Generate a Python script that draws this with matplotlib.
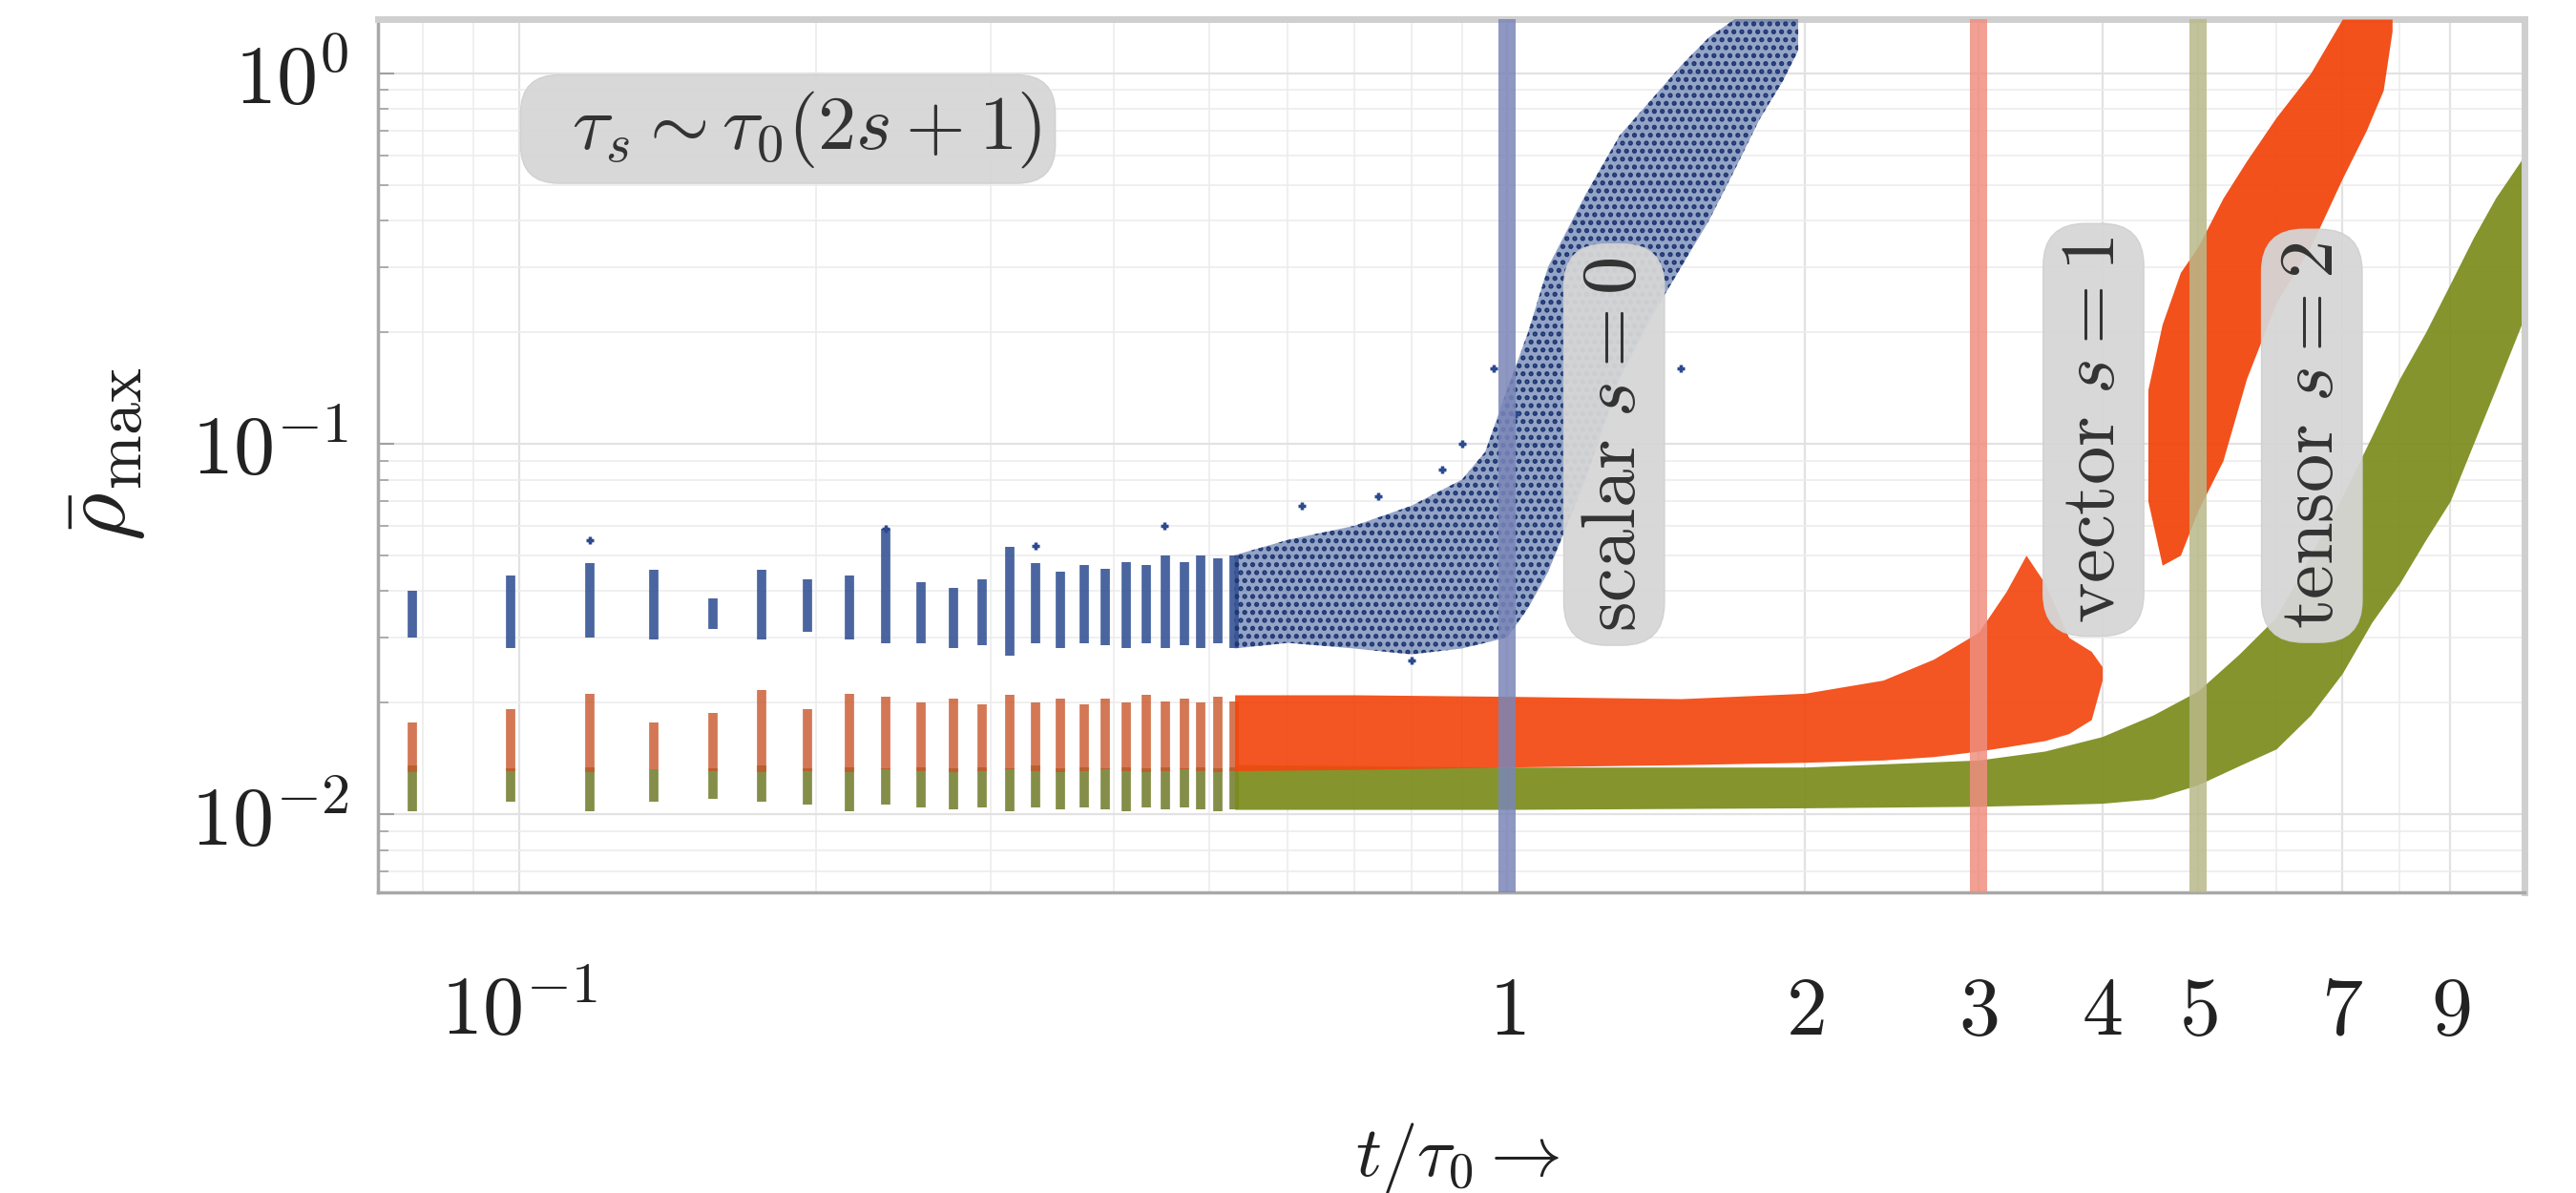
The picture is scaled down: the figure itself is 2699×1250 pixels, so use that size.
import matplotlib
matplotlib.use('Agg')
import matplotlib.pyplot as plt
from matplotlib.ticker import FixedLocator, FixedFormatter, LogLocator, NullFormatter

plt.rcParams['mathtext.fontset'] = 'cm'
plt.rcParams['font.family'] = ['DejaVu Serif']
plt.rcParams['hatch.linewidth'] = 2.5

# ---------------- data ----------------
# early, well separated sampling times (vertical streaks of points)
streak_t = [0.078, 0.098, 0.118, 0.137, 0.157, 0.176, 0.196, 0.216, 0.235, 0.255,
            0.275, 0.294, 0.314, 0.333, 0.353, 0.373, 0.392, 0.412, 0.431, 0.451,
            0.471, 0.490, 0.510, 0.529]
scalar_streak_lo = [0.030, 0.028, 0.030, 0.0296, 0.0317, 0.0296, 0.031, 0.0296, 0.029, 0.029,
                    0.028, 0.0285, 0.0268, 0.029, 0.028, 0.029, 0.0285, 0.028, 0.029, 0.028,
                    0.0285, 0.028, 0.029, 0.028]
scalar_streak_hi = [0.040, 0.044, 0.0476, 0.0456, 0.0382, 0.0456, 0.0431, 0.044, 0.059, 0.0424,
                    0.0407, 0.0431, 0.0526, 0.0476, 0.045, 0.047, 0.046, 0.048, 0.047, 0.050,
                    0.048, 0.050, 0.049, 0.050]
vector_streak_lo = [0.0130, 0.0131, 0.0130, 0.0132, 0.0131, 0.0130, 0.0131, 0.0130, 0.0132, 0.0131,
                    0.0130, 0.0131, 0.0132, 0.0131, 0.0130, 0.0131, 0.0132, 0.0131, 0.0130, 0.0131,
                    0.0132, 0.0131, 0.0130, 0.0131]
vector_streak_hi = [0.0177, 0.0192, 0.0211, 0.0177, 0.0188, 0.0216, 0.0192, 0.0211, 0.0207, 0.0200,
                    0.0205, 0.0198, 0.0210, 0.0200, 0.0205, 0.0198, 0.0205, 0.0200, 0.0210, 0.0202,
                    0.0205, 0.0200, 0.0208, 0.0202]
tensor_streak_lo = [0.0102, 0.0108, 0.0102, 0.0108, 0.0110, 0.0108, 0.0106, 0.0102, 0.0106, 0.0104,
                    0.0103, 0.0104, 0.0102, 0.0104, 0.0103, 0.0104, 0.0103, 0.0102, 0.0104, 0.0103,
                    0.0104, 0.0103, 0.0102, 0.0103]
tensor_streak_hi = [0.0135, 0.0133, 0.0134, 0.0132, 0.0133, 0.0135, 0.0133, 0.0134, 0.0133, 0.0134,
                    0.0133, 0.0134, 0.0133, 0.0135, 0.0133, 0.0134, 0.0133, 0.0134, 0.0133, 0.0134,
                    0.0133, 0.0134, 0.0133, 0.0134]

# later times: the clouds merge into bands (lower / upper envelope)
scalar_band_t = [0.53, 0.60, 0.70, 0.80, 0.90, 0.95, 1.00, 1.05, 1.10, 1.20, 1.30,
                 1.40, 1.50, 1.60, 1.70, 1.80, 1.90, 1.97]
scalar_band_lo = [0.028, 0.029, 0.028, 0.027, 0.028, 0.029, 0.030, 0.036, 0.045, 0.080, 0.15,
                  0.22, 0.30, 0.40, 0.55, 0.75, 0.95, 1.15]
scalar_band_hi = [0.050, 0.055, 0.060, 0.068, 0.080, 0.095, 0.140, 0.200, 0.300, 0.470, 0.68,
                  0.85, 1.05, 1.25, 1.40, 1.40, 1.40, 1.40]

vector_band_t = [0.53, 0.70, 1.00, 1.50, 2.00, 2.40, 2.70, 3.00, 3.20, 3.35, 3.50, 3.70, 3.90, 4.00]
vector_band_lo = [0.0131, 0.0132, 0.0134, 0.0136, 0.0138, 0.0140, 0.0143, 0.0148, 0.0152, 0.0155,
                  0.0158, 0.0165, 0.0180, 0.0230]
vector_band_hi = [0.0210, 0.0210, 0.0208, 0.0205, 0.0212, 0.0230, 0.0262, 0.0310, 0.0400, 0.0500,
                  0.0420, 0.0300, 0.0275, 0.0250]
vector_rise_t = [4.45, 4.60, 4.80, 5.00, 5.30, 5.60, 6.00, 6.50, 7.00, 7.40, 7.70, 7.86]
vector_rise_lo = [0.070, 0.047, 0.050, 0.066, 0.090, 0.150, 0.240, 0.340, 0.520, 0.700, 0.900, 1.30]
vector_rise_hi = [0.140, 0.210, 0.290, 0.340, 0.460, 0.580, 0.760, 1.000, 1.400, 1.400, 1.400, 1.40]

tensor_band_t = [0.53, 1.0, 2.0, 3.0, 3.5, 4.0, 4.5, 5.0, 5.5, 6.0, 6.5, 7.0, 7.5, 8.0,
                 8.5, 9.0, 9.5, 10.0, 10.7]
tensor_band_lo = [0.0103, 0.0103, 0.0104, 0.0105, 0.0106, 0.0107, 0.0110, 0.0120, 0.0135, 0.0150,
                  0.0185, 0.0240, 0.0330, 0.0420, 0.0550, 0.0700, 0.1000, 0.1400, 0.2200]
tensor_band_hi = [0.0136, 0.0134, 0.0134, 0.0140, 0.0148, 0.0162, 0.0185, 0.0215, 0.0270, 0.0340,
                  0.0500, 0.0720, 0.1050, 0.1500, 0.2000, 0.2700, 0.3600, 0.4600, 0.6000]

# isolated scalar points outside the main cloud
scalar_out_t = [0.118, 0.235, 0.333, 0.45, 0.62, 0.74, 0.86, 0.90, 0.97, 1.02, 1.25, 1.50, 0.80]
scalar_out_v = [0.055, 0.059, 0.053, 0.060, 0.068, 0.072, 0.085, 0.100, 0.160, 0.120, 0.170, 0.160, 0.026]

# vertical reference lines tau_s / tau_0 = 2s+1
ref_t = [1, 3, 5]
ref_colors = ['#7a86b8', '#ef8f80', '#b9b98a']

label_t = [1.283, 3.92, 6.52]
label_v = [0.0994, 0.109, 0.105]
label_txt = [r'$\mathrm{scalar}\ s=0$', r'$\mathrm{vector}\ s=1$', r'$\mathrm{tensor}\ s=2$']

xtick_vals = [0.1, 1, 2, 3, 4, 5, 7, 9]
xtick_labels = [r'$10^{-1}$', r'$1$', r'$2$', r'$3$', r'$4$', r'$5$', r'$7$', r'$9$']
ytick_vals = [0.01, 0.1, 1.0]
ytick_labels = [r'$10^{-2}$', r'$10^{-1}$', r'$10^{0}$']

c_scalar = '#2b4a8f'
c_vector = '#f2470f'
c_tensor = '#7b8b1b'
c_vector_streak = '#c8552a'
c_tensor_streak = '#6f7a28'

# ---------------- figure ----------------
fig = plt.figure(figsize=(26.99, 12.5), dpi=100)
ax = fig.add_axes([396 / 2699, 1 - 935 / 1250, (2645 - 396) / 2699, (935 - 20) / 1250])
ax.set_xscale('log')
ax.set_yscale('log')
ax.set_xlim(0.072, 10.7)
ax.set_ylim(0.00615, 1.40)

# grid
ax.set_axisbelow(True)
ax.xaxis.set_minor_locator(LogLocator(base=10, subs=range(2, 10), numticks=50))
ax.yaxis.set_minor_locator(LogLocator(base=10, subs=range(2, 10), numticks=50))
ax.grid(True, which='major', color='#e2e2e2', lw=1.6)
ax.grid(True, which='minor', color='#ececec', lw=1.2)

# tensor (bottom), vector, scalar
ax.vlines(streak_t, tensor_streak_lo, tensor_streak_hi, colors=c_tensor_streak, lw=7, alpha=0.85, zorder=2)
ax.fill_between(tensor_band_t, tensor_band_lo, tensor_band_hi, color=c_tensor, lw=0, alpha=0.92, zorder=2)

ax.vlines(streak_t, vector_streak_lo, vector_streak_hi, colors=c_vector_streak, lw=7, alpha=0.8, zorder=3)
ax.fill_between(vector_band_t, vector_band_lo, vector_band_hi, color=c_vector, lw=0, alpha=0.92, zorder=3)
ax.fill_between(vector_rise_t, vector_rise_lo, vector_rise_hi, color=c_vector, lw=0, alpha=0.95, zorder=3)

ax.vlines(streak_t, scalar_streak_lo, scalar_streak_hi, colors=c_scalar, lw=7, alpha=0.85, zorder=4)
ax.fill_between(scalar_band_t, scalar_band_lo, scalar_band_hi, facecolor=(0.17, 0.29, 0.56, 0.5),
                edgecolor='#1c3470', hatch='..', lw=0, zorder=4)
ax.scatter(scalar_out_t, scalar_out_v, s=40, color=c_scalar, marker='+', lw=2.5, zorder=4)

for t, c in zip(ref_t, ref_colors):
    ax.axvline(t, color=c, lw=13, alpha=0.85, zorder=5)

# text boxes
ax.text(0.191, 0.874, r'$\;\;\tau_s\sim\tau_0(2s+1)\;\;$', transform=ax.transAxes, ha='center',
        va='center', fontsize=58, color='#333333', zorder=7,
        bbox=dict(boxstyle='round,pad=0.18,rounding_size=0.5', fc='#d6d6d6', ec='#d0d0d0', alpha=0.95))
for t, v, s in zip(label_t, label_v, label_txt):
    ax.text(t, v, s, rotation=90, ha='center', va='center', fontsize=58, color='#333333', zorder=7,
            bbox=dict(boxstyle='round,pad=0.17,rounding_size=0.55', fc='#d6d6d6', ec='#d0d0d0', alpha=0.95))

# ticks
ax.xaxis.set_major_locator(FixedLocator(xtick_vals))
ax.xaxis.set_major_formatter(FixedFormatter(xtick_labels))
ax.xaxis.set_minor_formatter(NullFormatter())
ax.yaxis.set_major_locator(FixedLocator(ytick_vals))
ax.yaxis.set_major_formatter(FixedFormatter(ytick_labels))
ax.yaxis.set_minor_formatter(NullFormatter())
ax.tick_params(axis='x', which='both', direction='in', length=0, pad=60, labelsize=62, colors='#a0a0a0',
               labelcolor='#222222')
ax.tick_params(axis='y', which='major', direction='in', length=12, width=1.5, pad=22, labelsize=62,
               colors='#a0a0a0', labelcolor='#222222')
ax.tick_params(axis='y', which='minor', direction='in', length=8, width=1.2, colors='#a0a0a0')

for side in ['left', 'bottom']:
    ax.spines[side].set_color('#a8a8a8')
    ax.spines[side].set_linewidth(2.5)
for side in ['top', 'right']:
    ax.spines[side].set_color('#cfcfcf')
    ax.spines[side].set_linewidth(5)

ax.set_xlabel(r'$t/\tau_0 \rightarrow$', fontsize=54, color='#222222', va='center')
ax.xaxis.set_label_coords(0.503, -0.304)
ax.set_ylabel(r'$\bar{\rho}_{\max}$', fontsize=70, color='#222222', va='center')
ax.yaxis.set_label_coords(-0.128, 0.502)

fig.savefig('out.png', dpi=100, facecolor='white')
